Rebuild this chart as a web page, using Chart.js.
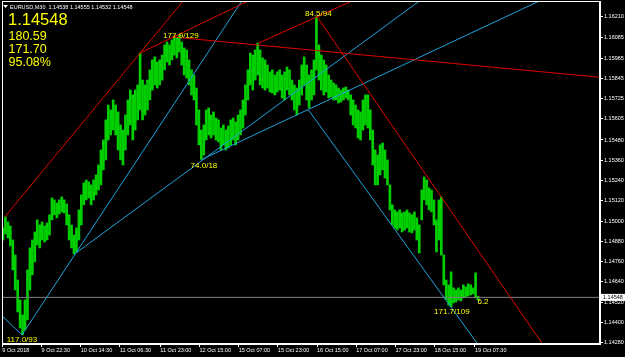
<!DOCTYPE html>
<html>
<head>
<meta charset="utf-8">
<script src="https://cdn.jsdelivr.net/npm/chart.js@4.4.1/dist/chart.umd.min.js"></script>
<style>
  html, body { margin: 0; padding: 0; background: #000; }
  canvas { display: block; }
</style>
</head>
<body>
<canvas id="chart" width="625" height="357"></canvas>
<script>
// EURUSD M30, 9 Oct - 19 Oct 2018. One column = two M30 bars (x = M30 bar number)
const symbol = 'EURUSD,M30';
const lastOhlc = [1.14538, 1.14555, 1.14532, 1.14548];
const bidPrice = 1.14548;
const statLines = ['180.59', '171.70', '95.08%'];

const highs = [
  1.14959, 1.15025, 1.14995, 1.14971, 1.14888, 1.14799, 1.14651, 1.14533, 1.14444, 1.14533,
  1.14711, 1.14841, 1.14888, 1.14935, 1.15007, 1.14977, 1.14995, 1.14971, 1.14989, 1.15037,
  1.15137, 1.15125, 1.15107, 1.15125, 1.15143, 1.15125, 1.15101, 1.15037, 1.14977, 1.14917,
  1.14959, 1.15066, 1.15155, 1.15226, 1.15243, 1.15232, 1.15214, 1.15243, 1.15273, 1.15332,
  1.15421, 1.15480, 1.15599, 1.15687, 1.15658, 1.15717, 1.15687, 1.15646, 1.15569, 1.15539,
  1.15628, 1.15717, 1.15776, 1.15747, 1.15776, 1.15806, 1.15995, 1.15835, 1.15806, 1.15835,
  1.15895, 1.15954, 1.15972, 1.15942, 1.15954, 1.15983, 1.16043, 1.16060, 1.16043, 1.16072,
  1.16096, 1.16084, 1.16105, 1.16060, 1.16025, 1.16013, 1.15954, 1.15895, 1.15865, 1.15788,
  1.15658, 1.15539, 1.15569, 1.15658, 1.15670, 1.15628, 1.15646, 1.15610, 1.15599, 1.15551,
  1.15569, 1.15539, 1.15563, 1.15599, 1.15610, 1.15587, 1.15628, 1.15658, 1.15717, 1.15806,
  1.15895, 1.15995, 1.15983, 1.16013, 1.16054, 1.16013, 1.15966, 1.15954, 1.15924, 1.15883,
  1.15895, 1.15865, 1.15883, 1.15895, 1.15865, 1.15883, 1.15912, 1.15895, 1.15835, 1.15806,
  1.15788, 1.15835, 1.15924, 1.15972, 1.15924, 1.15865, 1.15895, 1.15954, 1.16210, 1.16043,
  1.15983, 1.15954, 1.15924, 1.15865, 1.15835, 1.15818, 1.15806, 1.15788, 1.15776, 1.15788,
  1.15794, 1.15776, 1.15747, 1.15717, 1.15687, 1.15658, 1.15646, 1.15717, 1.15747, 1.15747,
  1.15658, 1.15539, 1.15421, 1.15391, 1.15451, 1.15462, 1.15421, 1.15362, 1.15214, 1.15096,
  1.15066, 1.15054, 1.15066, 1.15048, 1.15054, 1.15066, 1.15048, 1.15037, 1.15054, 1.15019,
  1.14977, 1.15184, 1.15261, 1.15243, 1.15196, 1.15184, 1.15125, 1.15007, 1.15125, 1.15143,
  1.14799, 1.14651, 1.14622, 1.14699, 1.14604, 1.14592, 1.14604, 1.14592, 1.14622, 1.14610,
  1.14628, 1.14622, 1.14604, 1.14693, 1.14555
];
const lows = [
  1.14888, 1.14924, 1.14900, 1.14853, 1.14711, 1.14592, 1.14462, 1.14367, 1.14326, 1.14355,
  1.14415, 1.14592, 1.14681, 1.14758, 1.14859, 1.14841, 1.14888, 1.14876, 1.14888, 1.14917,
  1.15007, 1.15037, 1.15019, 1.15042, 1.15054, 1.15048, 1.14977, 1.14888, 1.14841, 1.14805,
  1.14817, 1.14888, 1.14977, 1.15096, 1.15125, 1.15137, 1.15096, 1.15125, 1.15155, 1.15184,
  1.15214, 1.15303, 1.15362, 1.15480, 1.15510, 1.15539, 1.15510, 1.15421, 1.15362, 1.15332,
  1.15421, 1.15510, 1.15569, 1.15480, 1.15539, 1.15599, 1.15658, 1.15599, 1.15628, 1.15658,
  1.15717, 1.15776, 1.15806, 1.15788, 1.15806, 1.15835, 1.15895, 1.15942, 1.15924, 1.15954,
  1.15983, 1.15966, 1.16001, 1.15924, 1.15865, 1.15847, 1.15806, 1.15747, 1.15717, 1.15569,
  1.15451, 1.15365, 1.15391, 1.15480, 1.15510, 1.15492, 1.15510, 1.15480, 1.15468, 1.15421,
  1.15451, 1.15421, 1.15433, 1.15451, 1.15480, 1.15451, 1.15480, 1.15510, 1.15551, 1.15628,
  1.15717, 1.15806, 1.15776, 1.15835, 1.15865, 1.15806, 1.15788, 1.15776, 1.15788, 1.15764,
  1.15758, 1.15747, 1.15764, 1.15776, 1.15729, 1.15717, 1.15776, 1.15747, 1.15717, 1.15658,
  1.15628, 1.15687, 1.15747, 1.15806, 1.15717, 1.15670, 1.15717, 1.15747, 1.15895, 1.15835,
  1.15776, 1.15747, 1.15764, 1.15729, 1.15735, 1.15717, 1.15717, 1.15699, 1.15705, 1.15717,
  1.15729, 1.15717, 1.15628, 1.15569, 1.15551, 1.15492, 1.15480, 1.15539, 1.15569, 1.15551,
  1.15480, 1.15332, 1.15214, 1.15214, 1.15273, 1.15303, 1.15255, 1.15214, 1.15066, 1.14977,
  1.14959, 1.14947, 1.14959, 1.14935, 1.14947, 1.14959, 1.14935, 1.14930, 1.14947, 1.14888,
  1.14811, 1.15007, 1.15125, 1.15096, 1.15066, 1.15054, 1.14977, 1.14817, 1.14888, 1.14799,
  1.14622, 1.14533, 1.14503, 1.14493, 1.14515, 1.14521, 1.14533, 1.14527, 1.14545, 1.14551,
  1.14557, 1.14563, 1.14569, 1.14545, 1.14532
];

// time axis (M30 bar number -> label)
const timeTickIdx = [0, 32, 64, 96, 129, 161, 193, 225, 257, 289, 321, 353, 386];
const timeTickLabels = ['9 Oct 2018', '9 Oct 22:30', '10 Oct 14:30', '11 Oct 06:30', '11 Oct 23:00',
  '12 Oct 15:00', '15 Oct 07:00', '15 Oct 23:00', '16 Oct 15:00', '17 Oct 07:00', '17 Oct 23:00',
  '18 Oct 15:00', '19 Oct 07:30'];
const priceTicks = [1.16210, 1.16085, 1.15965, 1.15845, 1.15725, 1.15605, 1.15480, 1.15360, 1.15240,
  1.15120, 1.15000, 1.14880, 1.14760, 1.14640, 1.14520, 1.14400, 1.14280];

// zigzag swing labels
const swingIdx = [16, 145, 163, 257, 366, 388];
const swingPrice = [1.14326, 1.16105, 1.15365, 1.16210, 1.14493, 1.14555];
const swingText = ['117.0/93', '177.9/129', '74.0/18', '84.5/94', '171.7/109', '6.2'];

// trend lines: [bar1, price1, bar2, price2]
const redLines = [
  [2, 1.15025, 150, 1.16324],
  [112.5, 1.15995, 205, 1.16318],
  [139, 1.16090, 500, 1.15843],
  [209, 1.16053, 300, 1.16350],
  [257, 1.16210, 450, 1.14179]
];
const blueLines = [
  [-5, 1.14471, 16, 1.14326],
  [16, 1.14326, 200, 1.16352],
  [59, 1.14805, 350, 1.16353],
  [163, 1.15365, 450, 1.16342],
  [250, 1.15658, 400, 1.14153]
];

const FONT = 'Liberation Sans, Arial, sans-serif';

function lineDataset(l, color) {
  return {
    type: 'line',
    data: [{ x: l[0], y: l[1] }, { x: l[2], y: l[3] }],
    borderColor: color,
    borderWidth: 1,
    pointRadius: 0,
    fill: false,
    order: 1
  };
}

// label offsets in pixels (dx, dy) relative to the swing point
const labelShift = [[0, 4.5], [1, 1.5], [2, 6.5], [1.3, -3], [1.3, 5], [0, 5.5]];

const overlay = {
  id: 'overlay',
  beforeDraw(chart) {
    const { ctx, width, height } = chart;
    ctx.save();
    ctx.fillStyle = '#000';
    ctx.fillRect(0, 0, width, height);
    ctx.restore();
  },
  afterDraw(chart) {
    const { ctx, chartArea: a, scales: { x, y } } = chart;
    ctx.save();

    // frame
    ctx.strokeStyle = '#fff';
    ctx.lineWidth = 1;
    ctx.strokeRect(a.left + 0.5, a.top + 0.5, a.right - a.left - 1, a.bottom - a.top - 1);

    // zigzag labels
    ctx.fillStyle = '#ffff00';
    ctx.font = '8px ' + FONT;
    ctx.textBaseline = 'middle';
    swingText.forEach((t, i) => {
      const px = x.getPixelForValue(swingIdx[i]) + labelShift[i][0];
      const py = y.getPixelForValue(swingPrice[i]) + labelShift[i][1];
      ctx.textAlign = i === swingText.length - 1 ? 'left' : 'center';
      ctx.fillText(t, px, py);
    });

    // header
    ctx.fillStyle = '#fff';
    ctx.beginPath();
    ctx.moveTo(3, 5); ctx.lineTo(8, 5); ctx.lineTo(5.5, 8); ctx.closePath();
    ctx.fill();
    ctx.font = '5.5px ' + FONT;
    ctx.textAlign = 'left';
    ctx.textBaseline = 'alphabetic';
    ctx.fillText(symbol + '  ' + lastOhlc.map(v => v.toFixed(5)).join(' '), 10, 8.5);

    // big yellow info block
    ctx.fillStyle = '#ffff00';
    ctx.font = '16.5px ' + FONT;
    ctx.fillText(bidPrice.toFixed(5), 8, 24.5);
    ctx.font = '12.5px ' + FONT;
    statLines.forEach((s, i) => ctx.fillText(s, 8.5, 39.5 + i * 13));

    // bid price box on the axis
    const by = y.getPixelForValue(bidPrice);
    ctx.fillStyle = '#fff';
    ctx.fillRect(a.right + 1, by - 3.5, 24, 7);
    ctx.fillStyle = '#000';
    ctx.font = '5.5px ' + FONT;
    ctx.textBaseline = 'middle';
    ctx.fillText(bidPrice.toFixed(5), a.right + 3, by + 0.3);

    ctx.restore();
  }
};

const bars = highs.map((h, k) => ({ x: 2 * k + 0.5, y: [lows[k], h] }));

new Chart(document.getElementById('chart'), {
  type: 'bar',
  data: {
    datasets: [
      {
        data: bars,
        backgroundColor: '#00d000',
        barThickness: 2,
        order: 10
      },
      {
        type: 'line',
        data: [{ x: -1, y: bidPrice }, { x: 490, y: bidPrice }],
        borderColor: '#808080',
        borderWidth: 1,
        pointRadius: 0,
        order: 5
      },
      ...redLines.map(l => lineDataset(l, '#e00000')),
      ...blueLines.map(l => lineDataset(l, '#1fa3db'))
    ]
  },
  options: {
    responsive: false,
    devicePixelRatio: 1,
    animation: false,
    events: [],
    layout: { padding: { left: 2, top: 1, right: 0, bottom: 0 } },
    plugins: { legend: { display: false }, tooltip: { enabled: false } },
    scales: {
      x: {
        type: 'linear',
        offset: false,
        min: -0.3,
        max: 488.1,
        position: 'bottom',
        grid: { offset: false, drawOnChartArea: false, tickLength: 3, color: '#fff' },
        border: { color: '#fff' },
        ticks: {
          color: '#fff',
          font: { family: FONT, size: 5.5 },
          align: 'start',
          maxRotation: 0,
          autoSkip: false,
          padding: 0,
          callback: (v) => timeTickLabels[timeTickIdx.indexOf(v)]
        },
        afterBuildTicks: (s) => { s.ticks = timeTickIdx.map(v => ({ value: v })); },
        afterFit: (s) => { s.height = 13; s.paddingLeft = 0; s.paddingRight = 0; }
      },
      y: {
        type: 'linear',
        position: 'right',
        min: 1.14272,
        max: 1.16303,
        grid: { drawOnChartArea: false, tickLength: 3, color: '#fff' },
        border: { color: '#fff' },
        ticks: {
          color: '#fff',
          font: { family: FONT, size: 5.5 },
          padding: 1,
          callback: (v) => v.toFixed(5)
        },
        afterBuildTicks: (s) => { s.ticks = priceTicks.map(v => ({ value: v })); },
        afterFit: (s) => { s.width = 25; s.paddingTop = 0; s.paddingBottom = 0; }
      }
    }
  },
  plugins: [overlay]
});
</script>
</body>
</html>
